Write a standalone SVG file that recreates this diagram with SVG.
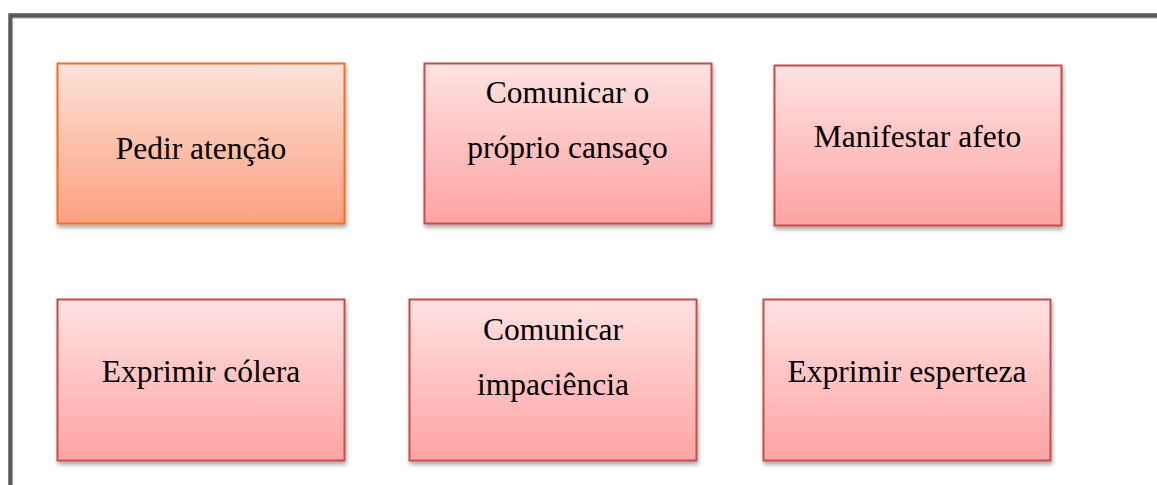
<svg xmlns="http://www.w3.org/2000/svg" width="1157" height="485" viewBox="0 0 1157 485">
<style>
text{font-family:"Liberation Serif","Times New Roman",serif;font-size:31.5px;fill:#000;text-anchor:middle}
.red{fill:url(#gRed);stroke:#c0504d;stroke-width:2}
.org{fill:url(#gOrg);stroke:#f26f22;stroke-width:2}
</style>
<defs>
<linearGradient id="gRed" x1="0" y1="0" x2="0" y2="1">
<stop offset="0" stop-color="#ffe2e2"/>
<stop offset="1" stop-color="#ffa3a3"/>
</linearGradient>
<linearGradient id="gOrg" x1="0" y1="0" x2="0" y2="1">
<stop offset="0" stop-color="#fde2da"/>
<stop offset="1" stop-color="#fca07f"/>
</linearGradient>
<filter id="sh" x="-10%" y="-10%" width="125%" height="130%">
<feDropShadow dx="1" dy="3" stdDeviation="2.2" flood-color="#000" flood-opacity="0.35"/>
</filter>
</defs>
<g id="frame">
<path d="M10.5,485 V15.5 H1157" fill="none" stroke="#5a5a5a" stroke-width="4.5"/>
<path d="M13,485 V18.5 H1157" fill="none" stroke="#d8d8d8" stroke-width="1"/>
</g>
<g id="connectors"></g>
<g id="n1">
<rect class="org" x="57.5" y="63.5" width="287" height="160" filter="url(#sh)"/>
<text x="201" y="159">Pedir atenção</text>
</g>
<g id="n2">
<rect class="red" x="424.5" y="63.5" width="287" height="160" filter="url(#sh)"/>
<text x="567.5" y="103">Comunicar o</text>
<text x="567.5" y="158">próprio cansaço</text>
</g>
<g id="n3">
<rect class="red" x="774.5" y="65.5" width="287" height="160" filter="url(#sh)"/>
<text x="917.5" y="147">Manifestar afeto</text>
</g>
<g id="n4">
<rect class="red" x="57.5" y="299.5" width="287" height="161" filter="url(#sh)"/>
<text x="201" y="382">Exprimir cólera</text>
</g>
<g id="n5">
<rect class="red" x="409.5" y="299.5" width="287" height="161" filter="url(#sh)"/>
<text x="553" y="340">Comunicar</text>
<text x="553" y="395">impaciência</text>
</g>
<g id="n6">
<rect class="red" x="763.5" y="299.5" width="287" height="161" filter="url(#sh)"/>
<text x="907" y="382">Exprimir esperteza</text>
</g>
</svg>
